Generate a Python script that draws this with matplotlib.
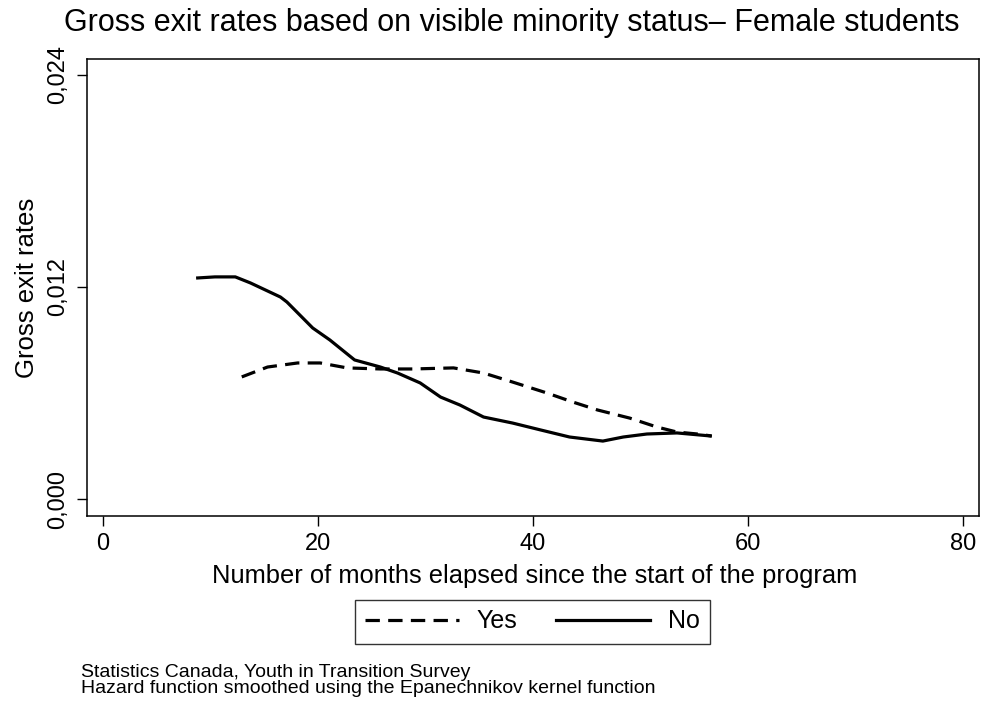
import matplotlib.pyplot as plt
from matplotlib.ticker import FixedLocator

plt.rcParams['font.family'] = ['Liberation Sans', 'DejaVu Sans']

# smoothed hazard estimates, visible minority = Yes
yes_months = [12.9, 15.3, 18.1, 20.2, 22.7, 25.8, 28.8, 32.6, 35.4, 38.1,
              41.3, 43.7, 46.0, 49.0, 51.5, 53.4, 55.3, 56.6]
yes_rates = [0.00691, 0.00747, 0.00770, 0.00770, 0.00742, 0.00736, 0.00736,
             0.00742, 0.00713, 0.00662, 0.00600, 0.00549, 0.00504, 0.00458,
             0.00408, 0.00379, 0.00368, 0.00357]

# visible minority = No
no_months = [8.8, 10.4, 12.3, 13.7, 16.5, 17.1, 19.5, 21.1, 23.4, 25.8, 27.4,
             29.5, 31.4, 33.2, 35.4, 38.1, 40.7, 43.4, 46.5, 48.4, 50.6,
             53.4, 56.5]
no_rates = [0.01251, 0.01257, 0.01257, 0.01223, 0.01143, 0.01115, 0.00968,
            0.00900, 0.00787, 0.00747, 0.00713, 0.00657, 0.00577, 0.00532,
            0.00464, 0.00430, 0.00391, 0.00351, 0.00328, 0.00351, 0.00368,
            0.00374, 0.00357]

xticks = [0, 20, 40, 60, 80]
yticks = [0.0, 0.012, 0.024]
ytick_labels = ['0,000', '0,012', '0,024']

notes = ['Statistics Canada, Youth in Transition Survey',
         'Hazard function smoothed using the Epanechnikov kernel function']

W, H = 982, 708
fig = plt.figure(figsize=(W / 100, H / 100), dpi=100)
# plot region in pixels: left 87, right 979, top 59, bottom 516
ax = fig.add_axes([87 / W, (H - 516) / H, (979 - 87) / W, (516 - 59) / H])

dash = (0, (4.5, 2.6))
ax.plot(yes_months, yes_rates, color='black', lw=2.3, ls=dash, label='Yes')
ax.plot(no_months, no_rates, color='black', lw=2.3, label='No')

ax.set_xlim(-1.5, 81.5)
ax.set_ylim(-0.00096, 0.0249)
ax.xaxis.set_major_locator(FixedLocator(xticks))
ax.set_yticks(yticks)
ax.set_yticklabels(ytick_labels, rotation=90, va='center')
ax.tick_params(direction='out', length=7, width=1, labelsize=17)
ax.tick_params(axis='x', pad=5)
ax.tick_params(axis='y', pad=6)
for s in ax.spines.values():
    s.set_linewidth(1.1)

fig.text(535 / W, 1 - 583 / H,
         'Number of months elapsed since the start of the program',
         ha='center', va='baseline', fontsize=18.4)
fig.text(27 / W, 1 - 287.5 / H, 'Gross exit rates', rotation=90,
         ha='center', va='center', fontsize=18.5)
fig.text(512 / W, 1 - 31 / H,
         'Gross exit rates based on visible minority status\u2013 Female students',
         ha='center', va='baseline', fontsize=22)

leg = fig.legend(loc='center', bbox_to_anchor=(532.5 / W, 1 - 621.5 / H),
                 ncol=2, fontsize=18, frameon=True, fancybox=False,
                 edgecolor='black', handlelength=3.76, handletextpad=0.7,
                 columnspacing=1.56, borderpad=0.4, borderaxespad=0)
leg.get_frame().set_linewidth(1.0)

# two-line source note, tightly spaced
fig.text(81 / W, 1 - 664 / H, '\n'.join(notes), fontsize=14,
         va='top', ha='left', linespacing=0.92)

fig.savefig('out.png', dpi=100, facecolor='white')
